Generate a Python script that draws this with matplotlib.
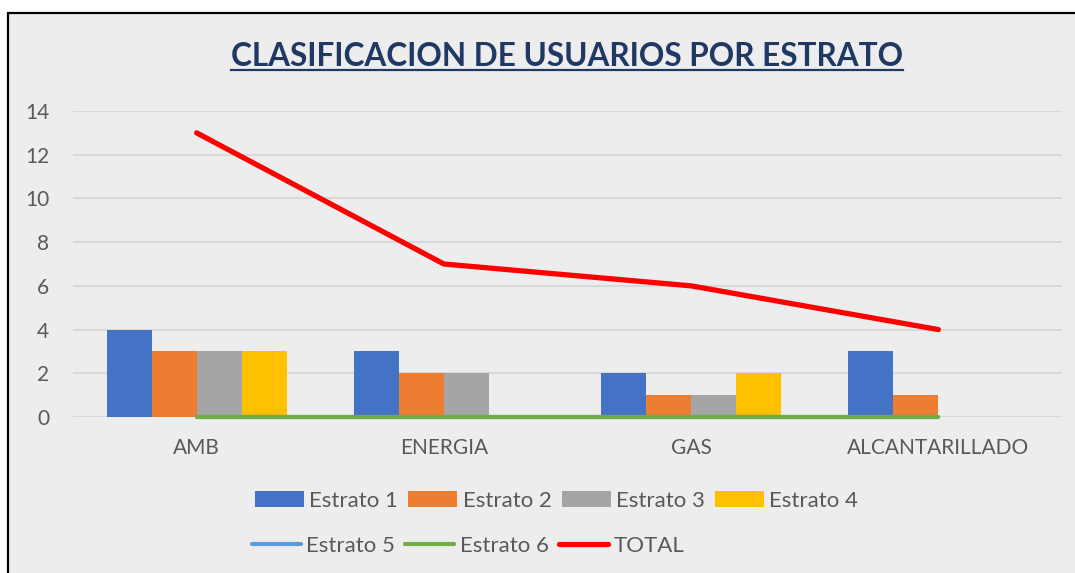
import numpy as np
import matplotlib as mpl
mpl.use('Agg')
import matplotlib.pyplot as plt
from matplotlib.patches import Rectangle
from matplotlib.lines import Line2D

categories = ['AMB', 'ENERGIA', 'GAS', 'ALCANTARILLADO']
estrato_1 = [4, 3, 2, 3]
estrato_2 = [3, 2, 1, 1]
estrato_3 = [3, 2, 1, 0]
estrato_4 = [3, 0, 2, 0]
estrato_5 = [0, 0, 0, 0]
estrato_6 = [0, 0, 0, 0]
total = [13, 7, 6, 4]
y_ticks = [0, 2, 4, 6, 8, 10, 12, 14]

bar_series = [('Estrato 1', estrato_1, '#4472C4'),
              ('Estrato 2', estrato_2, '#ED7D31'),
              ('Estrato 3', estrato_3, '#A5A5A5'),
              ('Estrato 4', estrato_4, '#FFC000')]
line_series = [('Estrato 5', estrato_5, '#5B9BD5', 3.0),
               ('Estrato 6', estrato_6, '#70AD47', 3.0),
               ('TOTAL', total, '#FF0000', 3.8)]

plt.rcParams['font.family'] = ['Lato', 'DejaVu Sans']
text_color = '#595959'
W, H = 1075, 573

fig = plt.figure(figsize=(W / 100, H / 100), dpi=100, facecolor='white')

# chart area background with border on top / left
bg = Rectangle((8 / W, -0.05), 1.2, 1.05 - 13 / H, transform=fig.transFigure,
               facecolor='#EDEDED', edgecolor='black', linewidth=1.6, zorder=-10)
fig.patches.append(bg)

ax = fig.add_axes([73 / W, (H - 417) / H, 989 / W, 306 / H])
ax.set_facecolor('none')

x = np.arange(len(categories))
width = 0.182
bar_handles = []
for i, (name, vals, color) in enumerate(bar_series):
    h = ax.bar(x + (i - 1.5) * width, vals, width, color=color, label=name, zorder=2)
    bar_handles.append(h)

line_handles = []
for name, vals, color, lw in line_series:
    l, = ax.plot(x, vals, color=color, lw=lw, label=name, solid_capstyle='round',
                 zorder=3, clip_on=False)
    line_handles.append(l)

ax.set_xlim(-0.5, len(categories) - 0.5)
ax.set_ylim(0, 14)
ax.set_yticks(y_ticks)
ax.set_xticks(x)
ax.set_xticklabels(categories)
ax.yaxis.grid(True, color='#D9D9D9', lw=1.5, zorder=1)
ax.set_axisbelow(True)
for s in ax.spines.values():
    s.set_visible(False)
ax.tick_params(axis='y', length=0, pad=17, labelsize=15, labelcolor=text_color)
ax.tick_params(axis='x', length=0, pad=15, labelsize=15, labelcolor=text_color)

leg_kw = dict(frameon=False, fontsize=16, handlelength=2.2, handletextpad=0.25,
              columnspacing=0.45, borderpad=0, borderaxespad=0, labelcolor=text_color)
leg1 = fig.legend(handles=bar_handles, loc='center left', bbox_to_anchor=(255 / W, 1 - 501 / H),
                  ncol=4, **leg_kw)
leg2 = fig.legend(handles=line_handles, loc='center left', bbox_to_anchor=(252 / W, 1 - 546 / H),
                  ncol=3, **leg_kw)

title = fig.text(567 / W, 1 - 66 / H, 'CLASIFICACION DE USUARIOS POR ESTRATO',
                 ha='center', va='baseline', fontsize=22.7, fontweight='bold', color='#1F3864')

fig.canvas.draw()
bb = title.get_window_extent(fig.canvas.get_renderer())
uy = (H - 70) / H
fig.add_artist(Line2D([bb.x0 / W, bb.x1 / W], [uy, uy], transform=fig.transFigure,
                      color='#1F3864', lw=1.6))

fig.savefig('out.png', dpi=100, facecolor='white')
